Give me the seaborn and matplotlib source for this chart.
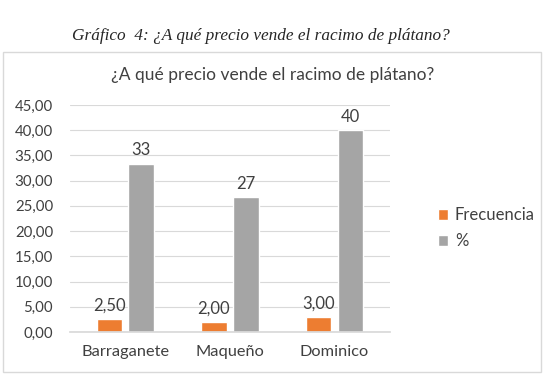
import matplotlib.pyplot as plt
import matplotlib.patches as mpatches
import pandas as pd
import seaborn as sns

categorias = ['Barraganete', 'Maqueño', 'Dominico']
frecuencia = [2.50, 2.00, 3.00]
porcentaje = [33.33, 26.67, 40.00]
series = ['Frecuencia', '%']
colores = ['#ED7D31', '#A5A5A5']

df = pd.DataFrame({
    'categoria': categorias * 2,
    'valor': frecuencia + porcentaje,
    'serie': [series[0]] * 3 + [series[1]] * 3,
})

sns.set_theme(style='white')
plt.rcParams['font.family'] = ['Lato', 'DejaVu Sans']

fig = plt.figure(figsize=(5.46, 3.79), dpi=100)
ax = fig.add_axes([0.128, 0.124, 0.586, 0.599])

sns.barplot(data=df, x='categoria', y='valor', hue='serie', palette=colores,
            width=0.61, gap=0.2, ax=ax, legend=True, saturation=1)

# etiquetas de datos
etiquetas = [[f'{v:.2f}'.replace('.', ',') for v in frecuencia],
             [f'{v:.0f}' for v in porcentaje]]
for cont, labs in zip(ax.containers, etiquetas):
    ax.bar_label(cont, labels=labs, padding=4, fontsize=12, color='#404040')

ax.set_ylim(0, 45)
ax.set_xlim(-0.53, 2.53)
ticks = list(range(0, 50, 5))
ax.set_yticks(ticks)
ax.set_yticklabels([f'{t:.2f}'.replace('.', ',') for t in ticks])
ax.yaxis.grid(True, color='#D9D9D9', linewidth=0.8)
ax.set_axisbelow(True)
for s in ['top', 'right', 'left']:
    ax.spines[s].set_visible(False)
ax.spines['bottom'].set_color('#D9D9D9')
ax.tick_params(axis='y', length=0, labelsize=10.8, labelcolor='#404040', pad=12)
ax.tick_params(axis='x', length=0, labelsize=11.8, labelcolor='#404040', pad=9)
ax.set_xlabel('')
ax.set_ylabel('')

leg = ax.legend(loc='center left', bbox_to_anchor=(0.775, 0.398),
                bbox_transform=fig.transFigure, frameon=False,
                fontsize=12, handlelength=0.6, handleheight=0.6,
                handletextpad=0.4, labelspacing=0.6)
for t in leg.get_texts():
    t.set_color('#404040')

# marco del grafico
fig.patches.append(mpatches.Rectangle((0.006, 0.018), 0.985, 0.845,
                                      transform=fig.transFigure, fill=False,
                                      edgecolor='#D9D9D9', linewidth=1))

fig.text(0.5, 0.802, '¿A qué precio vende el racimo de plátano?',
         ha='center', va='center', fontsize=12.5, color='#404040')
fig.text(0.478, 0.905, 'Gráfico  4: ¿A qué precio vende el racimo de plátano?',
         ha='center', va='center', fontsize=12.4, style='italic',
         family=['Liberation Serif', 'DejaVu Serif'])

fig.savefig('out.png', dpi=100, facecolor='white')
